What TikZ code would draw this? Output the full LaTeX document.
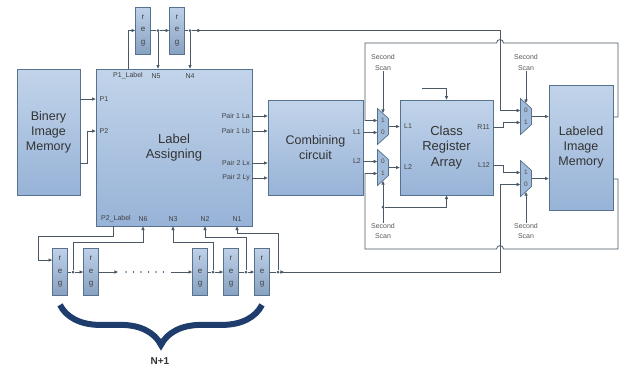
\documentclass[tikz,border=0pt]{standalone}
\usepackage{fontspec}
\setmainfont{Liberation Sans}
\usetikzlibrary{arrows.meta,calc,shapes.geometric,decorations.pathreplacing}
\definecolor{bxtop}{HTML}{C2D4EA}
\definecolor{bxbot}{HTML}{97B3D7}
\definecolor{bxln}{HTML}{56728F}
\definecolor{wre}{HTML}{4B5866}
\definecolor{brc}{HTML}{1E3D6C}
\tikzset{
  blk/.style={rectangle,draw=bxln,top color=bxtop,bottom color=bxbot,line width=.8pt,
    inner sep=0pt,align=center,text=black!80,font=\fontsize{12.5}{15}\selectfont},
  rg/.style={rectangle,draw=bxln,top color=bxtop!90!bxbot,bottom color=bxbot!90!black,line width=.8pt,
    minimum width=15pt,minimum height=47pt,inner sep=0pt,align=center,text=black!75,
    font=\fontsize{8}{12.5}\selectfont},
  % a mux is a trapezium turned so that its wide side takes the inputs
  mx/.style={trapezium,rotate=-90,trapezium left angle=58,trapezium right angle=58,
    trapezium stretches=true,minimum width=36pt,minimum height=11pt,inner sep=1pt,
    draw=bxln,fill=bxbot!90!white,line width=.7pt},
  lb/.style={font=\fontsize{7}{8}\selectfont,text=black!75,inner sep=0pt},
  bt/.style={font=\fontsize{6.5}{7.5}\selectfont,text=black!70,inner sep=0pt},
  sc/.style={font=\fontsize{7}{10.5}\selectfont,text=black!65,align=center,inner sep=0pt},
  wr/.style={draw=wre,line width=.8pt},
  ar/.style={wr,-{Triangle[length=3.6pt,width=3.2pt]}},
  dt/.style={circle,fill=wre,inner sep=0pt,minimum size=3pt},
}
\begin{document}
\begin{tikzpicture}[x=1pt,y=-1pt]
\useasboundingbox (0,0) rectangle (621,373);
\node[blk,minimum width=63pt,minimum height=126pt] (bim) at (48.5,132) {Binery\\Image\\Memory};
\node[blk,minimum width=156pt,minimum height=157pt,font=\fontsize{13}{15.5}\selectfont] (la) at (174,147.5) {Label\\Assigning};
\node[blk,minimum width=95pt,minimum height=95pt] (cc) at (315.5,147.5) {Combining\\circuit};
\node[blk,minimum width=93pt,minimum height=95pt,font=\fontsize{13}{15.5}\selectfont] (cra) at (446.5,147.5) {Class\\Register\\Array};
\node[blk,minimum width=64pt,minimum height=125pt] (lim) at (581,147.5) {Labeled\\Image\\Memory};

\node[rg] (rt1) at (143,30.5) {r\\e\\g};
\node[rg] (rt2) at (177,30.5) {r\\e\\g};
\foreach \i/\x in {1/60,2/91,3/200,4/231,5/262}
  \node[rg] (rb\i) at (\x,272) {r\\e\\g};

\node[mx] (m1) at (383,126.5) {};
\node[mx] (m2) at (383,167.5) {};
\node[mx] (m3) at (526,116.5) {};
\node[mx] (m4) at (526,178.5) {};
\foreach \m in {1,2,3,4} {
  \coordinate (m\m u) at ($(m\m.south)+(0,-6)$);
  \coordinate (m\m d) at ($(m\m.south)+(0,6)$);
}
\node[bt] (m1p) at (m1u -| m1) {1}; \node[bt] (m1q) at (m1d -| m1) {0};
\node[bt] (m2p) at (m2u -| m2) {0}; \node[bt] (m2q) at (m2d -| m2) {1};
\node[bt] (m3p) at (m3u -| m3) {0}; \node[bt] (m3q) at (m3d -| m3) {1};
\node[bt] (m4p) at (m4u -| m4) {1}; \node[bt] (m4q) at (m4d -| m4) {0};

% labels on the block edges
\node[lb] (lp1l) at (128,76) {P1\_Label};
\node[lb] (ln5) at (156,76) {N5};
\node[lb] (ln4) at (190,76) {N4};
\node[lb] (lp1) at (104,99) {P1};
\node[lb] (lp2) at (104,131) {P2};
\node[lb,anchor=east] (lpa) at (250,116) {Pair 1 La};
\node[lb,anchor=east] (lpb) at (250,131) {Pair 1 Lb};
\node[lb,anchor=east] (lpc) at (250,163) {Pair 2 Lx};
\node[lb,anchor=east] (lpd) at (250,178) {Pair 2 Ly};
\node[lb] (lp2l) at (116,219) {P2\_Label};
\node[lb] (ln6) at (143,219) {N6};
\node[lb] (ln3) at (173,219) {N3};
\node[lb] (ln2) at (205,219) {N2};
\node[lb] (ln1) at (237,219) {N1};
\node[lb,anchor=east] (cl1) at (361,132.5) {L1};
\node[lb,anchor=east] (cl2) at (361,161.5) {L2};
\node[lb,anchor=west] (kl1) at (404,126.5) {L1};
\node[lb,anchor=west] (kl2) at (404,167.5) {L2};
\node[lb,anchor=east] (kr11) at (490,127) {R11};
\node[lb,anchor=east] (kl12) at (490,165) {L12};
\node[sc] (ss1) at (383,62.5) {Second\\Scan};
\node[sc] (ss2) at (383,231) {Second\\Scan};
\node[sc] (ss3) at (526,62.5) {Second\\Scan};
\node[sc] (ss4) at (526,231) {Second\\Scan};

% memory and label block
\draw[ar] (bim.east |- lp1) -- (la.west |- lp1);
\draw[ar] (bim.east |- 0,163) -- (87,163) |- (la.west |- lp2);
\draw[ar] (la.east |- lpa) -- (cc.west |- lpa);
\draw[ar] (la.east |- lpb) -- (cc.west |- lpb);
\draw[ar] (la.east |- lpc) -- (cc.west |- lpc);
\draw[ar] (la.east |- lpd) -- (cc.west |- lpd);
\draw[ar] (cc.east |- m1d) -- (m1d);
\draw[ar] (cc.east |- m2u) -- (m2u);

% top register pair
\node[dt] (j5) at (158,30.5) {};
\node[dt] (j4) at (190,30.5) {};
\draw[ar] (la.north -| lp1l) |- (rt1.west);
\draw[wr] (rt1.east) -- (j5);
\draw[ar] (j5) -- (rt2.west);
\draw[ar] (j5) -- (j5 |- la.north);
\draw[wr] (rt2.east) -- (j4);
\draw[ar] (j4) -- (j4 |- la.north);
\draw[ar] (j4) -- ++(11,0);
\draw[ar] (j4) -- (500,30.5) |- (m3u);

% bottom register chain
\node[dt] (jb1) at (73,272) {};
\node[dt] (jb3) at (213,272) {};
\node[dt] (jb4) at (246,272) {};
\node[dt] (jb5) at (278,272) {};
\coordinate (d1) at (118,272);
\coordinate (d2) at (171,272);
\draw[ar] (la.south -| 113,0) -- (113,236) -| (38,260) -- (rb1.west |- 0,260);
\draw[wr] (rb1.east) -- (jb1);
\draw[ar] (jb1) -- (rb2.west);
\draw[ar] (rb2.east) -- (d1);
\draw[wre,line width=1.6pt,line cap=round,dash pattern=on 0pt off 7.5pt] ($(d1)+(8,0)$) -- ($(d2)+(-4,0)$);
\draw[ar] (d2) -- (rb3.west);
\draw[wr] (rb3.east) -- (jb3);
\draw[ar] (jb3) -- (rb4.west);
\draw[wr] (rb4.east) -- (jb4);
\draw[ar] (jb4) -- (rb5.west);
\draw[wr] (rb5.east) -- (jb5);
\draw[ar] (jb5) -- ++(6,0);
\draw[ar] (jb5) -- (500,272) |- (m4d);
\draw[ar] (jb1) -- ++(0,-30) -| (la.south -| ln6);
\draw[ar] (jb3) -- ++(0,-30) -| (la.south -| ln3);
\draw[ar] (jb4) -- ++(0,-35) -| (la.south -| ln2);
\draw[ar] (jb5) -- ++(0,-39) -| (la.south -| ln1);

% class register array and muxes
\coordinate (crin) at (422,88);
\node[dt] (jc) at (383,207) {};
\draw[ar] (crin) -| (cra.north);
\draw[ar] (ss1.south) -- (m1.west);
\draw[ar] (ss2.north) -- (m2.east);
\draw[ar] (jc) -| (cra.south);
\draw[ar] (ss3.south) -- (m3.west);
\draw[ar] (ss4.north) -- (m4.east);
\draw[ar] (m1.north) -- (cra.west |- m1.north);
\draw[ar] (m2.north) -- (cra.west |- m2.north);
\draw[ar] (cra.east |- kr11) -- (503,127) |- (m3d);
\draw[ar] (cra.east |- kl12) -- (503,165) |- (m4u);
\draw[ar] (m3.north) -- (lim.west |- m3.north);
\draw[ar] (m4.north) -- (lim.west |- m4.north);

% feedback from the labeled memory
\draw[ar] (lim.east |- 0,117) -- (618,117) -- (618,43) -- (503.5,43)
  .. controls (503.5,38.5) and (496.5,38.5) .. (496.5,43) -- (365,43) |- (m1u);
\draw[ar] (lim.east |- 0,179) -- (618,179) -- (618,249) -- (503.5,249)
  .. controls (503.5,244.5) and (496.5,244.5) .. (496.5,249) -- (365,249) |- (m2d);

\draw[brc,line width=6pt,decorate,decoration={brace,mirror,amplitude=40pt,aspect=0.5}]
  ($(rb1.south)+(0,9)$) -- ($(rb5.south)+(0,9)$);
\node[font=\bfseries\fontsize{10}{12}\selectfont,text=black!80] (nn) at (160,361) {N+1};
\end{tikzpicture}
\end{document}
